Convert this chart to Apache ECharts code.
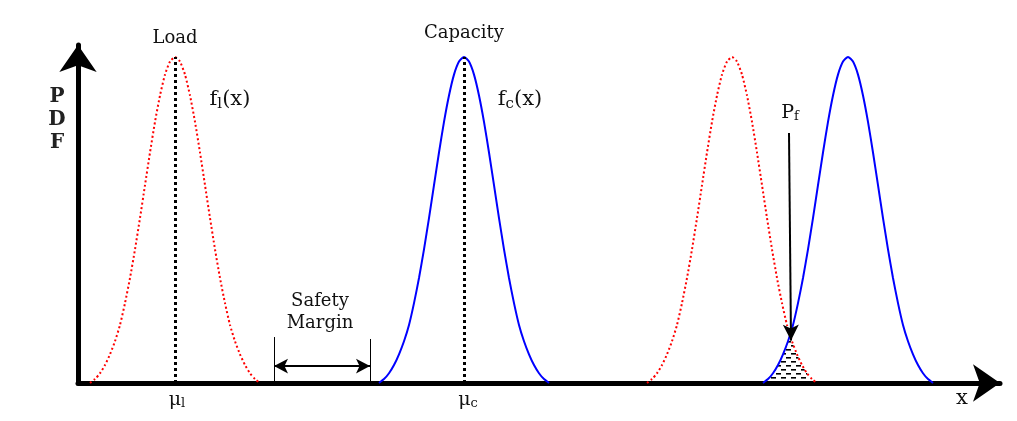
<!DOCTYPE html>
<html><head><meta charset="utf-8">
<script src="https://cdn.jsdelivr.net/npm/echarts@6/dist/echarts.min.js"></script>
<style>html,body{margin:0;padding:0;background:#fff}#c{width:1017px;height:421px}</style>
</head><body><div id="c"></div>
<script>
// x in drawing units (0 = origin), y relative density (peak = 1)
const shapeY = [0,0.012,0.03,0.055,0.088,0.128,0.178,0.245,0.322,0.41,0.506,0.607,0.707,0.801,0.882,0.946,0.986,1,
                0.986,0.946,0.882,0.801,0.707,0.607,0.506,0.41,0.322,0.245,0.178,0.128,0.088,0.055,0.03,0.012,0];
const loadX  = [12,17,22,27,32,37,42,47,52,57,62,67,72,77,82,87,92,97,102,107,112,117,122,127,132,137,142,147,152,157,162,167,172,177,182];
const loadY  = shapeY;
const capX   = [301,306,311,316,321,326,331,336,341,346,351,356,361,366,371,376,381,386,391,396,401,406,411,416,421,426,431,436,441,446,451,456,461,466,471];
const capY   = shapeY;
const load2X = [569,574,579,584,589,594,599,604,609,614,619,624,629,634,639,644,649,654,659,664,669,674,679,684,689,694,699,704,709,714,719,724,729,734,739];
const load2Y = shapeY;
const cap2X  = [685,690,695,700,705,710,715,720,725,730,735,740,745,750,755,760,765,770,775,780,785,790,795,800,805,810,815,820,825,830,835,840,845,850,855];
const cap2Y  = shapeY;
const overlapX = [685,690,695,700,705,710,712,714,719,724,729,734,739];
const overlapY = [0,0.012,0.03,0.055,0.088,0.128,0.145,0.128,0.088,0.055,0.03,0.012,0];
const muL = 97, muC = 386;
const safetyFrom = 196, safetyTo = 292;

const zip = (xs, ys) => xs.map((x, i) => [x, ys[i]]);

const hc = document.createElement('canvas'); hc.width = 10; hc.height = 8;
const g = hc.getContext('2d'); g.fillStyle = '#000';
g.fillRect(1, 1, 5, 1.6); g.fillRect(6, 5, 4, 1.6); g.fillRect(0, 5, 1, 1.6);

const chart = echarts.init(document.getElementById('c'), null, {renderer: 'canvas'});
const FONT = '"DejaVu Serif", "Liberation Serif", serif';
const axisLine = {show: true, symbol: ['none', 'arrow'], symbolSize: [28, 27], lineStyle: {color: '#000', width: 5}};
const curve = (name, data, color, type) => ({
  name, type: 'line', data, smooth: 0.2, symbol: 'none', clip: false, z: 3,
  lineStyle: {color, width: 2, type}
});
const helper = (ml) => ({type: 'line', data: [], markLine: Object.assign({silent: true, animation: false, label: {show: false}}, ml)});

chart.setOption({
  animation: false,
  grid: {left: 78, right: 17, top: 45, bottom: 38},
  xAxis: {type: 'value', min: 0, max: 922, axisLine, axisTick: {show: false}, axisLabel: {show: false}, splitLine: {show: false}},
  yAxis: {type: 'value', min: 0, max: 1.0368, axisLine, axisTick: {show: false}, axisLabel: {show: false}, splitLine: {show: false}},
  series: [
    {type: 'line', data: zip(overlapX, overlapY), smooth: 0.2, symbol: 'none', z: 1,
     lineStyle: {width: 0}, areaStyle: {color: {image: hc, repeat: 'repeat'}, opacity: 1}},
    curve('Load', zip(loadX, loadY), '#ff0000', [2, 2.5]),
    curve('Capacity', zip(capX, capY), '#0000ff', 'solid'),
    curve('Load 2', zip(load2X, load2Y), '#ff0000', [2, 2.5]),
    curve('Capacity 2', zip(cap2X, cap2Y), '#0000ff', 'solid'),
    helper({symbol: 'none', lineStyle: {color: '#000', width: 3, type: [3, 3]},
      data: [[{coord: [muL, 0]}, {coord: [muL, 1]}], [{coord: [muC, 0]}, {coord: [muC, 1]}]]}),
    helper({symbol: 'none', lineStyle: {color: '#000', width: 1, type: 'solid'},
      data: [[{coord: [safetyFrom, 0]}, {coord: [safetyFrom, 0.141]}], [{coord: [safetyTo, 0]}, {coord: [safetyTo, 0.135]}]]}),
    helper({symbol: ['arrow', 'arrow'], symbolSize: [11, 14], lineStyle: {color: '#000', width: 2, type: 'solid'},
      data: [[{coord: [safetyFrom, 0.052]}, {coord: [safetyTo, 0.052]}]]}),
    helper({symbol: ['none', 'arrow'], symbolSize: [12, 16], lineStyle: {color: '#000', width: 2, type: 'solid'},
      data: [[{coord: [711, 0.767]}, {coord: [713, 0.13]}]]})
  ]
});

const texts = [
  {t: 'Load', p: [97, 1.058], s: 18},
  {t: 'Capacity', p: [386, 1.074], s: 18},
  {t: 'f{s|l}(x)', p: [152, 0.868], s: 21},
  {t: 'f{s|c}(x)', p: [442, 0.868], s: 21},
  {t: 'P{s|f}', p: [712, 0.828], s: 19},
  {t: 'Safety', p: [242, 0.252], s: 18},
  {t: 'Margin', p: [242, 0.184], s: 18},
  {t: 'μ{s|l}', p: [99, -0.052], s: 19},
  {t: 'μ{s|c}', p: [390, -0.052], s: 19},
  {t: 'x', p: [884, -0.049], s: 21},
  {t: 'P', p: [-21, 0.877], s: 20, b: true},
  {t: 'D', p: [-21, 0.807], s: 20, b: true},
  {t: 'F', p: [-21, 0.736], s: 20, b: true}
];
chart.setOption({graphic: texts.map(o => {
  const pt = chart.convertToPixel({gridIndex: 0}, o.p);
  return {type: 'text', x: pt[0], y: pt[1], z: 10, silent: true, style: {
    text: o.t, fill: o.b ? '#222' : '#111', font: (o.b ? 'bold ' : '') + o.s + 'px ' + FONT,
    align: 'center', verticalAlign: 'middle',
    rich: {s: {fontSize: Math.round(o.s * 0.7), fontFamily: FONT, verticalAlign: 'bottom', padding: [8, 0, 0, 0]}}
  }};
})});
</script></body></html>
